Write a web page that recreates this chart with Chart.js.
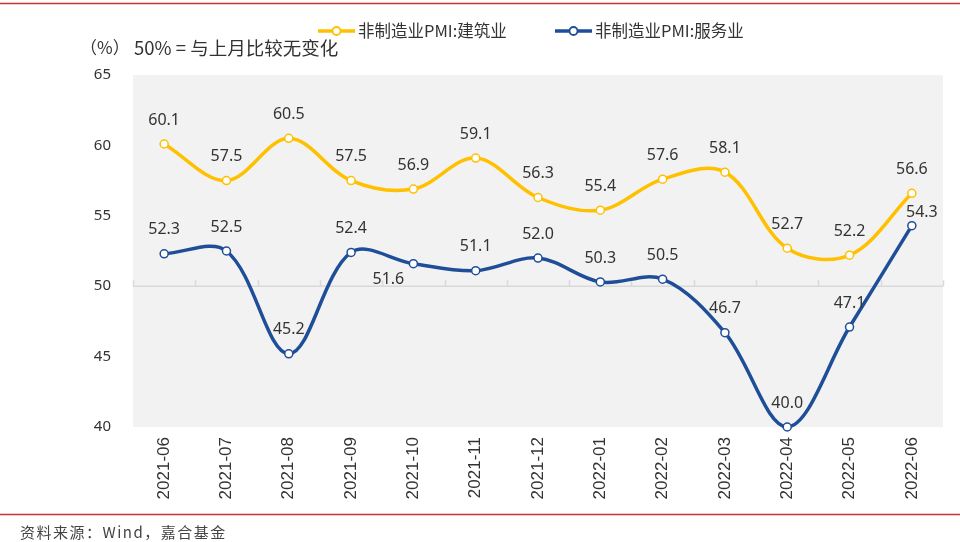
<!DOCTYPE html>
<html>
<head>
<meta charset="utf-8">
<script src="https://cdn.jsdelivr.net/npm/chart.js@4.4.1/dist/chart.umd.min.js"></script>
<style>
  html, body { margin: 0; padding: 0; background: #ffffff; }
  #wrap { width: 960px; height: 542px; position: relative; }
</style>
</head>
<body>
<div id="wrap"><canvas id="c" width="960" height="542"></canvas></div>
<script>
// ---- data ----
const categories = ['2021-06','2021-07','2021-08','2021-09','2021-10','2021-11','2021-12','2022-01','2022-02','2022-03','2022-04','2022-05','2022-06'];
const construction = [60.1, 57.5, 60.5, 57.5, 56.9, 59.1, 56.3, 55.4, 57.6, 58.1, 52.7, 52.2, 56.6];
const services = [52.3, 52.5, 45.2, 52.4, 51.6, 51.1, 52.0, 50.3, 50.5, 46.7, 40.0, 47.1, 54.3];
const seriesNames = ['非制造业PMI:建筑业', '非制造业PMI:服务业'];
const yTicks = [40, 45, 50, 55, 60, 65];
const titleText = '50% = 与上月比较无变化';
const unitText = '（%）';
const sourceText = '资料来源：Wind，嘉合基金';

// ---- styles ----
const YELLOW = '#FFC000';
const BLUE = '#1F4E99';
const TEXT = '#333333';
// label offsets (styling only): index -> [dx, dy]
const labelOffsets = [
  {},
  { 4: [-25, 16], 12: [10, -13] }
];

const decorPlugin = {
  id: 'decor',
  beforeDraw(chart) {
    const { ctx, chartArea: a } = chart;
    ctx.save();
    ctx.fillStyle = '#F2F2F2';
    ctx.fillRect(a.left, a.top, a.right - a.left, a.bottom - a.top);
    ctx.restore();
  },
  beforeDatasetsDraw(chart) {
    const { ctx, chartArea: a, scales } = chart;
    const y50 = scales.y.getPixelForValue(50);
    const n = categories.length;
    const w = (a.right - a.left) / n;
    ctx.save();
    ctx.strokeStyle = '#D9D9D9';
    ctx.lineWidth = 1.5;
    ctx.beginPath();
    ctx.moveTo(a.left, y50);
    ctx.lineTo(a.right, y50);
    for (let i = 0; i <= n; i++) {
      const x = Math.round(a.left + i * w) + 0.5;
      ctx.moveTo(x, y50);
      ctx.lineTo(x, y50 - 6);
    }
    ctx.stroke();
    ctx.restore();
  },
  afterDatasetsDraw(chart) {
    const { ctx } = chart;
    ctx.save();
    ctx.font = '16px "Noto Sans", "Open Sans", sans-serif';
    ctx.fillStyle = TEXT;
    ctx.textAlign = 'center';
    ctx.textBaseline = 'middle';
    chart.data.datasets.forEach((ds, di) => {
      const meta = chart.getDatasetMeta(di);
      meta.data.forEach((pt, i) => {
        const off = labelOffsets[di][i] || [0, -24];
        ctx.fillText(ds.data[i].toFixed(1), pt.x + off[0], pt.y + off[1]);
      });
    });
    ctx.restore();
  },
  afterDraw(chart) {
    const { ctx } = chart;
    ctx.save();
    // red rules
    ctx.strokeStyle = '#D0302F';
    ctx.lineWidth = 1.3;
    ctx.beginPath();
    ctx.moveTo(0, 3.5); ctx.lineTo(960, 3.5);
    ctx.moveTo(0, 514.5); ctx.lineTo(960, 514.5);
    ctx.stroke();
    // unit + title
    ctx.fillStyle = TEXT;
    ctx.textBaseline = 'middle';
    ctx.textAlign = 'left';
    ctx.font = '17px "Noto Sans CJK SC", sans-serif';
    ctx.fillText(unitText, 80, 48);
    ctx.font = '18.5px "Noto Sans CJK SC", sans-serif';
    ctx.fillText(titleText, 134, 48);
    // legend
    const items = [
      { x: 318, color: YELLOW, text: seriesNames[0] },
      { x: 555, color: BLUE, text: seriesNames[1] }
    ];
    ctx.font = '16.5px "Noto Sans CJK SC", sans-serif';
    items.forEach(it => {
      const y = 31;
      ctx.strokeStyle = it.color;
      ctx.lineWidth = 3.5;
      ctx.beginPath();
      ctx.moveTo(it.x, y); ctx.lineTo(it.x + 37, y);
      ctx.stroke();
      ctx.beginPath();
      ctx.arc(it.x + 18.5, y, 4, 0, Math.PI * 2);
      ctx.fillStyle = '#ffffff';
      ctx.fill();
      ctx.lineWidth = 1.8;
      ctx.stroke();
      ctx.fillStyle = TEXT;
      ctx.fillText(it.text, it.x + 40, y);
    });
    // source
    ctx.font = '15px "Noto Sans CJK SC", sans-serif';
    ctx.fillStyle = '#444444';
    if ('letterSpacing' in ctx) ctx.letterSpacing = '1.5px';
    ctx.fillText(sourceText, 20, 532);
    ctx.restore();
  }
};

new Chart(document.getElementById('c'), {
  type: 'line',
  data: {
    labels: categories,
    datasets: [
      {
        label: seriesNames[0],
        data: construction,
        borderColor: YELLOW,
        backgroundColor: '#ffffff',
        borderWidth: 3.5,
        pointRadius: 4,
        pointBorderWidth: 1.5,
        pointBackgroundColor: '#ffffff',
        pointBorderColor: YELLOW,
        tension: 0.35,
        clip: false
      },
      {
        label: seriesNames[1],
        data: services,
        borderColor: BLUE,
        backgroundColor: '#ffffff',
        borderWidth: 3.5,
        pointRadius: 4,
        pointBorderWidth: 1.5,
        pointBackgroundColor: '#ffffff',
        pointBorderColor: BLUE,
        tension: 0.35,
        clip: false
      }
    ]
  },
  options: {
    responsive: false,
    animation: false,
    devicePixelRatio: 1,
    layout: { padding: { left: 0, top: 75, right: 17, bottom: 0 } },
    plugins: {
      legend: { display: false },
      title: { display: false },
      tooltip: { enabled: false }
    },
    scales: {
      x: {
        type: 'category',
        offset: true,
        grid: { display: false, drawTicks: false },
        border: { display: false },
        ticks: {
          maxRotation: 90,
          minRotation: 90,
          padding: 10,
          color: TEXT,
          font: { family: '"Liberation Sans", Arial, sans-serif', size: 17 }
        },
        afterFit(s) { s.height = 115; }
      },
      y: {
        min: 40,
        max: 65,
        grid: { display: false, drawTicks: false },
        border: { display: false },
        afterBuildTicks(s) { s.ticks = yTicks.map(v => ({ value: v })); },
        ticks: {
          padding: 22,
          color: TEXT,
          font: { family: '"Noto Sans", sans-serif', size: 15 }
        },
        afterFit(s) { s.width = 133; }
      }
    }
  },
  plugins: [decorPlugin]
});
</script>
</body>
</html>
